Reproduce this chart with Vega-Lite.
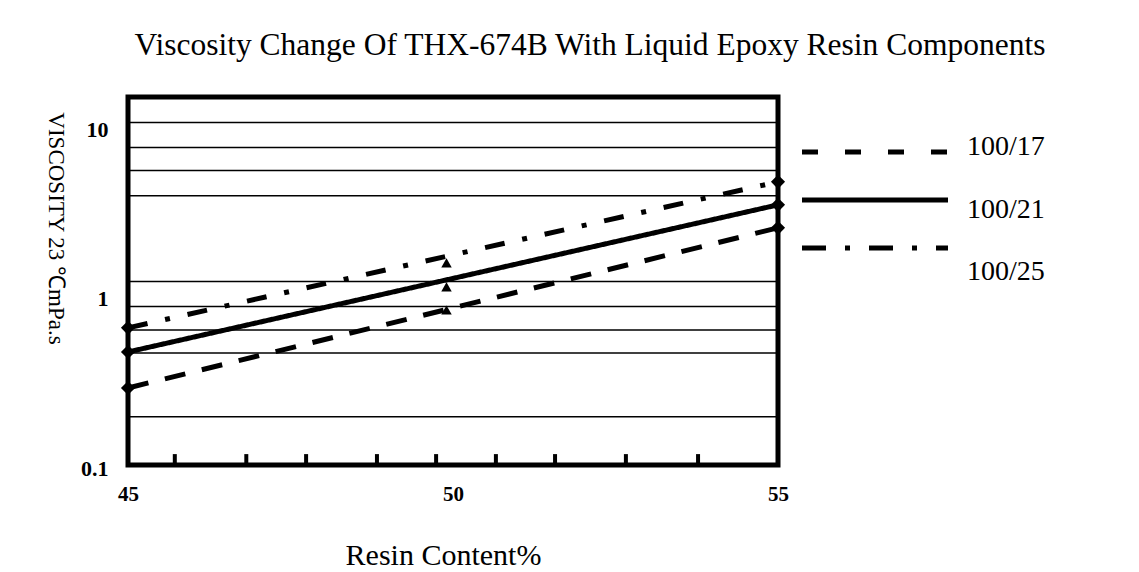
{
  "$schema": "https://vega.github.io/schema/vega-lite/v6.json",
  "autosize": "none",
  "width": 650,
  "height": 368,
  "padding": {"left": 128, "top": 97, "right": 361, "bottom": 107},
  "background": "white",
  "config": {
    "view": {"stroke": "black", "strokeWidth": 5},
    "font": "Liberation Serif",
    "axis": {
      "labelFont": "Liberation Serif",
      "labelFontSize": 22,
      "labelFontWeight": "bold",
      "labelColor": "black",
      "titleFont": "Liberation Serif",
      "titleFontWeight": "normal",
      "titleColor": "black",
      "ticks": false,
      "domain": false,
      "grid": false
    }
  },
  "title": {
    "text": "Viscosity Change Of THX-674B With Liquid Epoxy Resin Components",
    "font": "Liberation Serif",
    "fontSize": 31.5,
    "fontWeight": "normal",
    "anchor": "middle",
    "dx": 137,
    "offset": 36,
    "color": "black"
  },
  "datasets": {
    "lines": [
      {"resin": 45, "viscosity": 0.2855, "series": "100/17"},
      {"resin": 55, "viscosity": 2.526, "series": "100/17"},
      {"resin": 45, "viscosity": 0.466, "series": "100/21"},
      {"resin": 55, "viscosity": 3.455, "series": "100/21"},
      {"resin": 45, "viscosity": 0.647, "series": "100/25"},
      {"resin": 55, "viscosity": 4.727, "series": "100/25"}
    ],
    "mid": [
      {"resin": 49.9, "viscosity": 0.826, "series": "100/17"},
      {"resin": 49.9, "viscosity": 1.131, "series": "100/21"},
      {"resin": 49.9, "viscosity": 1.568, "series": "100/25"}
    ],
    "grid": [
      {"viscosity": 10.6}, {"viscosity": 7.54}, {"viscosity": 5.51}, {"viscosity": 3.905},
      {"viscosity": 1.215}, {"viscosity": 0.865}, {"viscosity": 0.629}, {"viscosity": 0.46},
      {"viscosity": 0.193}
    ],
    "ticks": [
      {"resin": 45.72}, {"resin": 46.82}, {"resin": 47.74}, {"resin": 48.83}, {"resin": 49.74},
      {"resin": 50.66}, {"resin": 51.57}, {"resin": 52.66}, {"resin": 53.77}
    ],
    "legend": [
      {"series": "100/17"}, {"series": "100/21"}, {"series": "100/25"}
    ]
  },
  "resolve": {"scale": {"x": "independent", "y": "independent", "strokeDash": "independent"}},
  "layer": [
    {
      "layer": [
        {
          "data": {"name": "grid"},
          "mark": {"type": "rule", "color": "black", "strokeWidth": 1.5},
          "encoding": {
            "y": {"field": "viscosity", "type": "quantitative"},
            "x": {"datum": 45, "type": "quantitative"},
            "x2": {"datum": 55}
          }
        },
        {
          "data": {"name": "ticks"},
          "mark": {"type": "rule", "color": "black", "strokeWidth": 4},
          "encoding": {
            "x": {"field": "resin", "type": "quantitative"},
            "y": {"datum": 0.1, "type": "quantitative"},
            "y2": {"datum": 0.116}
          }
        },
        {
          "data": {"name": "lines"},
          "mark": {"type": "line", "color": "black", "strokeWidth": 5, "clip": false},
          "encoding": {
            "x": {
              "field": "resin", "type": "quantitative",
              "scale": {"domain": [45, 55], "nice": false, "zero": false},
              "axis": {
                "values": [45, 50, 55],
                "format": "d",
                "title": "Resin Content%",
                "titleFontSize": 30,
                "titleX": 315,
                "titleY": 90,
                "titleAlign": "center",
                "titleBaseline": "middle",
                "labelFontSize": 21,
                "labelPadding": 18,
                "labelFlush": false
              }
            },
            "y": {
              "field": "viscosity", "type": "quantitative",
              "scale": {"type": "log", "domain": [0.1, 15], "nice": false},
              "axis": {
                "values": [0.1, 1, 10],
                "title": "VISCOSITY 23 ℃mPa.s",
                "titleAngle": 90,
                "titleFontSize": 23,
                "titleX": -73,
                "titleY": 131,
                "titleAlign": "center",
                "titleBaseline": "middle",
                "labelFontSize": 22,
                "labelPadding": 20,
                "labelOffset": 3,
                "labelExpr": "datum.value == 0.1 ? '0.1' : datum.value == 1 ? '1' : '10'"
              }
            },
            "strokeDash": {
              "field": "series", "type": "nominal",
              "scale": {"domain": ["100/17", "100/21", "100/25"], "range": [[21, 17], [1, 0], [20, 18, 5, 18]]},
              "legend": null
            },
            "detail": {"field": "series"}
          }
        },
        {
          "data": {"name": "lines"},
          "mark": {"type": "point", "shape": "diamond", "filled": true, "color": "black", "opacity": 1, "size": 200, "clip": false},
          "encoding": {
            "x": {"field": "resin", "type": "quantitative"},
            "y": {"field": "viscosity", "type": "quantitative"}
          }
        },
        {
          "data": {"name": "mid"},
          "mark": {"type": "point", "shape": "triangle-up", "filled": true, "color": "black", "opacity": 1, "size": 110},
          "encoding": {
            "x": {"field": "resin", "type": "quantitative"},
            "y": {"field": "viscosity", "type": "quantitative"}
          }
        }
      ]
    },
    {
      "data": {"name": "legend"},
      "mark": {"type": "rule", "color": "black", "strokeWidth": 5, "clip": false},
      "encoding": {
        "y": {"field": "series", "type": "nominal", "scale": {"type": "point", "domain": ["100/17", "100/21", "100/25"], "range": [55, 151], "padding": 0}, "axis": null},
        "x": {"datum": 0, "type": "quantitative", "scale": {"domain": [0, 1], "range": [674, 820]}, "axis": null},
        "x2": {"datum": 1},
        "strokeDash": {
          "field": "series", "type": "nominal",
          "scale": {"domain": ["100/17", "100/21", "100/25"], "range": [[16, 27], [1, 0], [24, 19, 5, 19]]},
          "legend": null
        }
      }
    },
    {
      "data": {"name": "legend"},
      "mark": {"type": "text", "align": "left", "baseline": "middle", "font": "Liberation Serif", "fontSize": 28, "color": "black", "clip": false},
      "encoding": {
        "y": {"field": "series", "type": "nominal", "scale": {"type": "point", "domain": ["100/17", "100/21", "100/25"], "range": [50, 175], "padding": 0}, "axis": null},
        "x": {"datum": 0, "type": "quantitative", "scale": {"domain": [0, 1], "range": [839, 900]}, "axis": null},
        "text": {"field": "series"}
      }
    }
  ]
}
